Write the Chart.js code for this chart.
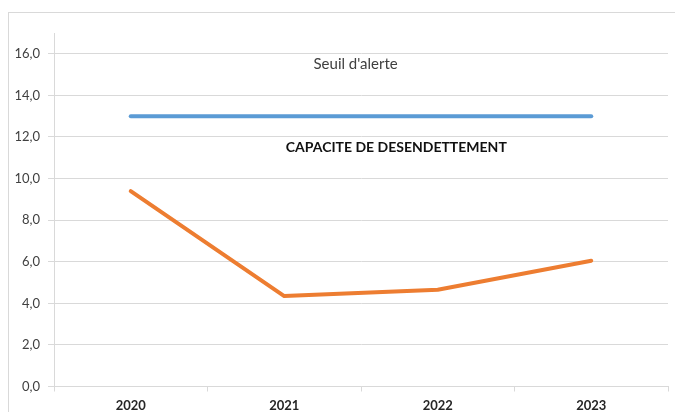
<!DOCTYPE html>
<html>
<head>
<meta charset="utf-8">
<script src="https://cdn.jsdelivr.net/npm/chart.js@4/dist/chart.umd.min.js"></script>
<style>
html,body{margin:0;padding:0;background:#fff;}
#wrap{width:675px;height:412px;position:relative;}
</style>
</head>
<body>
<div id="wrap"><canvas id="c" width="675" height="412"></canvas></div>
<script>
const categories = ["2020", "2021", "2022", "2023"];
const capaciteValues = [9.4, 4.35, 4.65, 6.05];
const seuilValues = [13.0, 13.0, 13.0, 13.0];
const yTickValues = [0, 2, 4, 6, 8, 10, 12, 14, 16];
const seuilLabel = "Seuil d'alerte";
const capaciteLabel = "CAPACITE DE DESENDETTEMENT";

const FONT = "Lato, 'Liberation Sans', sans-serif";

const framePlugin = {
  id: 'frame',
  beforeDraw(chart) {
    const ctx = chart.ctx;
    ctx.save();
    ctx.fillStyle = '#fff';
    ctx.fillRect(0, 0, chart.width, chart.height);
    ctx.strokeStyle = '#d9d9d9';
    ctx.lineWidth = 1;
    ctx.strokeRect(8.5, 12.5, 800, 600);
    ctx.restore();
  }
};

const textPlugin = {
  id: 'texts',
  afterDatasetsDraw(chart) {
    const ctx = chart.ctx;
    const x = chart.scales.x, y = chart.scales.y;
    const p1 = x.getPixelForValue(1), p2 = x.getPixelForValue(2);
    ctx.save();
    ctx.textAlign = 'center';
    ctx.textBaseline = 'middle';
    ctx.fillStyle = '#404040';
    ctx.font = "15px " + FONT;
    ctx.fillText(seuilLabel, p1 + (p2 - p1) * 0.465, y.getPixelForValue(15.5));
    ctx.fillStyle = '#111';
    ctx.font = "bold 14px " + FONT;
    ctx.fillText(capaciteLabel, p1 + (p2 - p1) * 0.73, y.getPixelForValue(11.48));
    ctx.restore();
  }
};

new Chart(document.getElementById('c'), {
  type: 'line',
  data: {
    labels: categories,
    datasets: [
      {
        label: seuilLabel,
        data: seuilValues,
        borderColor: '#5B9BD5',
        borderWidth: 4,
        borderCapStyle: 'round',
        pointRadius: 0,
        tension: 0
      },
      {
        label: capaciteLabel,
        data: capaciteValues,
        borderColor: '#ED7D31',
        borderWidth: 4,
        borderCapStyle: 'round',
        borderJoinStyle: 'round',
        pointRadius: 0,
        tension: 0
      }
    ]
  },
  plugins: [framePlugin, textPlugin],
  options: {
    responsive: false,
    animation: false,
    layout: { padding: { left: 0, right: 7, top: 33, bottom: 0 } },
    plugins: { legend: { display: false }, tooltip: { enabled: false } },
    scales: {
      x: {
        offset: true,
        grid: {
          offset: true,
          drawOnChartArea: false,
          drawTicks: true,
          tickLength: 5,
          color: '#d9d9d9'
        },
        border: { display: true, color: '#d9d9d9', width: 1 },
        ticks: {
          color: '#262626',
          font: { family: FONT, size: 13, weight: 'bold' },
          padding: 7,
          maxRotation: 0
        },
        afterFit(s) { s.height = 25.5; }
      },
      y: {
        min: 0,
        max: 17,
        afterBuildTicks(s) { s.ticks = yTickValues.map(v => ({ value: v })); },
        grid: {
          color: '#d9d9d9',
          lineWidth: 1,
          drawTicks: true,
          tickLength: 6
        },
        border: { display: true, color: '#d9d9d9', width: 1 },
        ticks: {
          color: '#404040',
          font: { family: FONT, size: 13 },
          padding: 8,
          callback: v => v.toFixed(1).replace('.', ',')
        },
        afterFit(s) { s.width = 54; }
      }
    }
  }
});
</script>
</body>
</html>
